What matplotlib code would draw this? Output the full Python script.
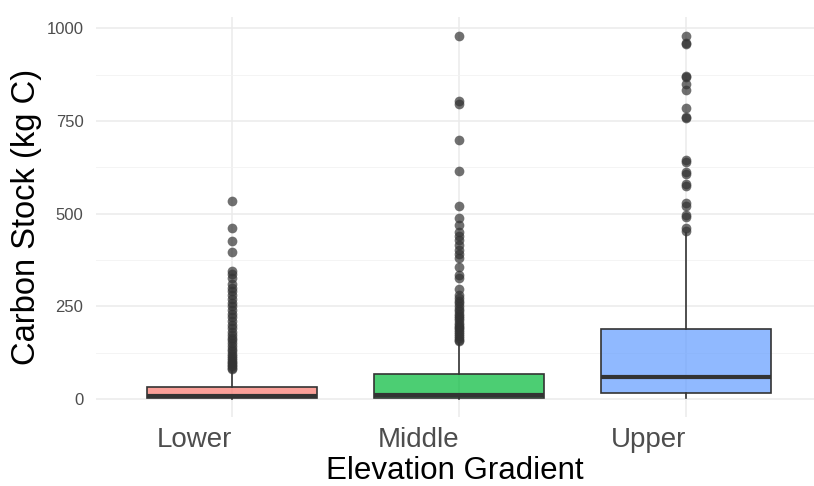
import matplotlib.pyplot as plt
from matplotlib.colors import to_rgba

plt.rcParams["font.family"] = ["Liberation Sans", "DejaVu Sans"]

groups = ["Lower", "Middle", "Upper"]
colors = ["#F8766D", "#00BA38", "#619CFF"]

# box summary (kg C)
q1 = [2, 2, 15]
med = [9, 10, 58]
q3 = [33, 66, 188]
whis_lo = [0, 0, 1]
whis_hi = [75, 150, 447]

lower_out = [535, 462, 426, 396, 345, 338, 325, 310, 300, 290, 280, 270, 260,
             250, 240, 228, 220, 210, 200, 190, 180, 172, 165, 158, 150, 142,
             135, 128, 122, 115, 110, 105, 100, 96, 92, 88, 84, 80]
middle_out = [981, 803, 795, 698, 615, 520, 489, 470, 451, 440, 429, 415, 402,
              390, 379, 357, 334, 325, 296, 280, 272, 265, 258, 250, 243, 236,
              230, 224, 218, 212, 206, 200, 195, 190, 185, 180, 175, 170, 165,
              160, 155]
upper_out = [981, 962, 958, 873, 868, 851, 833, 784, 762, 757, 644, 640, 613,
             606, 580, 575, 529, 520, 496, 491, 460, 454]
outliers = [lower_out, middle_out, upper_out]

stats = []
for i, g in enumerate(groups):
    stats.append({"label": g, "q1": q1[i], "med": med[i], "q3": q3[i],
                  "whislo": whis_lo[i], "whishi": whis_hi[i],
                  "fliers": outliers[i]})

fig = plt.figure(figsize=(8.14, 4.86), dpi=100)
ax = fig.add_axes([96 / 814, 1 - 417 / 486, 718 / 814, 400 / 486])

bp = ax.bxp(stats, positions=[1, 2, 3], widths=0.75, patch_artist=True,
            showcaps=False,
            boxprops=dict(edgecolor="#333333", linewidth=1.2),
            whiskerprops=dict(color="#333333", linewidth=1.2),
            medianprops=dict(color="#333333", linewidth=3),
            flierprops=dict(marker="o", markersize=7, markerfacecolor="#333333",
                            markeredgecolor="none", alpha=0.7))
for patch, c in zip(bp["boxes"], colors):
    patch.set_facecolor(to_rgba(c, 0.7))
    patch.set_edgecolor("#333333")

ax.set_xlim(0.4, 0.4 + 718 / 227)
ax.set_ylim(-49, 1031)
ax.set_yticks([0, 250, 500, 750, 1000])
ax.set_yticks([125, 375, 625, 875], minor=True)
ax.grid(True, which="major", color="#EBEBEB", linewidth=1.1)
ax.grid(True, which="minor", axis="y", color="#F2F2F2", linewidth=0.6)
ax.set_axisbelow(True)
for s in ax.spines.values():
    s.set_visible(False)
ax.tick_params(which="both", length=0)
ax.tick_params(axis="y", labelsize=12, labelcolor="#4D4D4D", pad=9)
ax.tick_params(axis="x", labelsize=20, labelcolor="#4D4D4D", pad=7)
# labels end at their tick (right-justified)
ax.set_xticklabels(groups, ha="right")

ax.set_xlabel("Elevation Gradient", fontsize=22.5, labelpad=2)
ax.set_ylabel("Carbon Stock (kg C)", fontsize=23.5, labelpad=3)

fig.savefig("out.png", dpi=100)
